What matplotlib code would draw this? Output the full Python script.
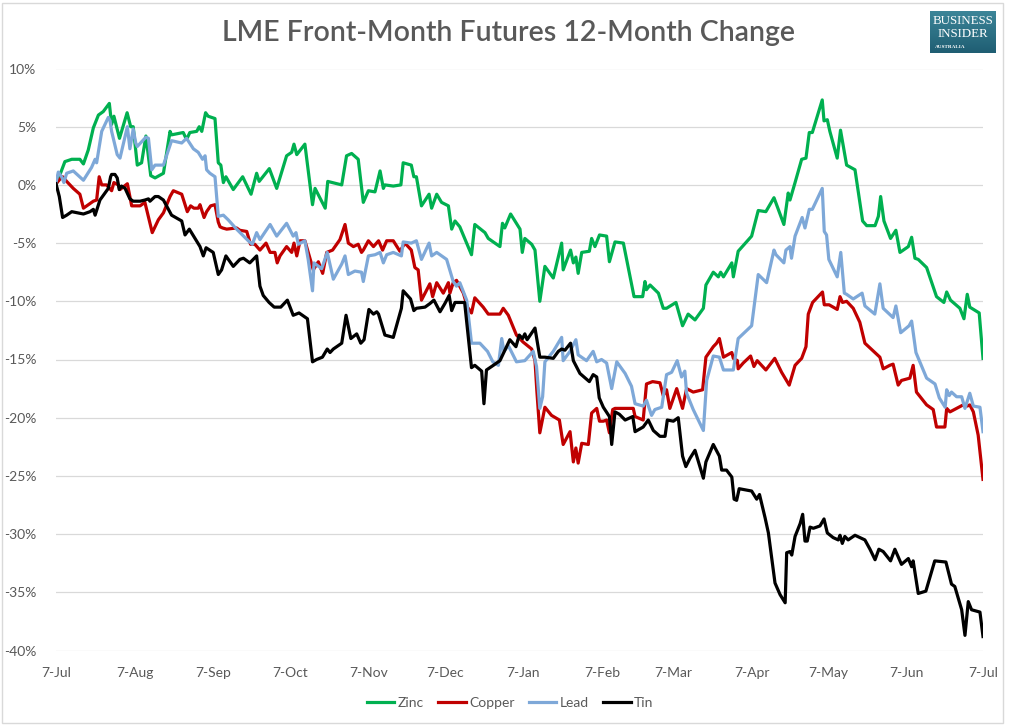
import matplotlib
matplotlib.use("Agg")
import matplotlib.pyplot as plt
import matplotlib.dates as mdates
from matplotlib.ticker import FuncFormatter
from matplotlib.patches import Rectangle
from matplotlib.colors import LinearSegmentedColormap
import numpy as np
import pandas as pd

# ---------------- data (day offsets from 7-Jul, % change) ----------------
START = "2014-07-07"
TITLE = "LME Front-Month Futures 12-Month Change"
SERIES_NAMES = ["Zinc", "Copper", "Lead", "Tin"]
SERIES_COLORS = ["#00B050", "#C00000", "#7EA8D8", "#000000"]

zinc_days = [0, 1.6, 3.5, 6.2, 9.4, 10.8, 12.7, 14.7, 16.7, 18.6, 21, 21.9, 22.8, 25, 28, 29.4, 30.4, 32, 33.7,
             35.4, 37.3, 39, 42.3, 44.9, 45.5, 50.1, 51.4, 52.7, 55.4, 56.4, 57.4, 58.9, 59.9, 62.6, 63.9, 64.9,
             65.9, 66.9, 69.8, 73.5, 76.8, 79, 80, 84, 86.9, 90.8, 92.8, 93.7, 94.8, 98, 101, 102, 106, 107,
             112.5, 114.4, 116.4, 119, 121, 123, 125.6, 127.6, 128.9, 129.5, 132.8, 135.8, 136.7, 139.9, 140.9,
             141.9, 143.9, 146.9, 147.9, 149.9, 151.8, 154.5, 155.8, 157.1, 159, 163.6, 164.9, 168.9, 170.2,
             174.8, 175.8, 176.7, 179, 182.7, 183.6, 184.6, 187.3, 188.6, 190.5, 192.5, 195.8, 199.1, 199.7,
             202.6, 203.7, 204.7, 205.6, 207, 210, 210.9, 212.2, 214, 216.8, 217.9, 220.1, 223.4, 227.6, 231,
             231.9, 232.5, 233.9, 237.2, 239.1, 240.4, 244.1, 246.7, 248.9, 251.6, 254.9, 255.9, 258.8, 260.8,
             261.7, 262.8, 266.1, 266.7, 268.6, 273.9, 276.5, 279.5, 282.7, 286.6, 288.3, 289, 291, 293.6,
             295.3, 296.6, 297.8, 301.7, 302.4, 303.7, 304.7, 307.6, 308.9, 311.3, 314.6, 317.6, 319.2, 322.5,
             323.8, 324.7, 326, 328.6, 330.7, 332.3, 335.6, 336.9, 338.2, 339.5, 342.8, 346.7, 349.6, 350.7,
             352.2, 355.9, 357.5, 358.8, 359.8, 363.5, 365]
zinc_vals = [0.0, 0.9, 2.0, 2.2, 2.2, 1.8, 3.0, 4.9, 6.0, 6.3, 7.0, 5.2, 5.9, 4.0, 6.2, 5.0, 5.0, 1.7, 1.9,
             4.2, 0.8, 0.6, 1.0, 4.6, 4.3, 4.5, 3.9, 4.5, 4.6, 5.0, 4.6, 6.2, 5.9, 5.7, 1.9, 1.7,
             0.2, 0.7, -0.4, 0.7, -0.8, 1.0, 0.3, 1.4, -0.3, 2.5, 2.8, 3.5, 2.6, 3.5, -1.7, -0.3, -2.0, 0.3,
             0.0, 2.5, 2.7, 2.2, -1.5, -0.5, -0.6, 1.2, -0.3, 0.0, -0.1, 0.0, 1.9, 1.7, 0.7,
             0.7, -1.8, -0.8, -2.0, -0.8, -1.5, -1.8, -3.8, -3.1, -3.6, -6.0, -3.4, -4.1, -4.6,
             -5.3, -3.3, -3.7, -2.5, -3.8, -5.8, -4.6, -5.1, -5.6, -10.0, -7.0, -8.0, -5.0, -7.3,
             -5.6, -6.7, -6.2, -7.6, -5.8, -5.7, -4.6, -5.3, -4.3, -4.4, -6.6, -4.9, -5.0, -9.6, -9.6,
             -8.3, -9.0, -8.6, -9.3, -10.6, -10.6, -10.1, -12.1, -11.1, -11.6, -10.6, -8.6, -7.5, -7.9,
             -7.5, -7.9, -6.7, -7.9, -5.7, -4.4, -2.2, -2.3, -1.1, -3.4, -0.7, -1.3, 0.2, 2.2,
             2.3, 4.5, 4.5, 7.3, 5.5, 5.6, 4.6, 2.3, 4.7, 1.7, 1.3, -3.1, -3.5, -3.5,
             -2.7, -1.0, -3.1, -4.6, -3.9, -5.8, -5.3, -4.5, -6.3, -6.4, -7.1, -9.6, -10.1, -9.2,
             -9.9, -10.6, -11.5, -9.4, -10.5, -11.0, -14.9]

copper_days = [0, 1.6, 2.6, 4.2, 6.8, 9.4, 10.8, 12.1, 14.7, 16, 17, 18, 19.9, 21.9, 22.8, 24.5, 25.2, 28.1,
               28.9, 29.8, 33.1, 35, 37.9, 40.3, 42.3, 44.9, 46.2, 49.5, 51.7, 53, 54.3, 56, 56.7, 58.3, 59.3,
               60.9, 62.6, 63.9, 64.6, 65.6, 67.2, 71.1, 72.4, 75.1, 76.6, 78.3, 80.3, 82.7, 84.3, 86.2, 87.1,
               88.2, 90.8, 92.8, 93.7, 94.8, 96.1, 98, 99.7, 101.3, 103.3, 105, 106.6, 108.9, 111.8, 113.8,
               115.1, 117.1, 119, 120.3, 121, 123, 125, 127, 128.6, 130.2, 132.8, 135.4, 137.4, 139.9, 141.3,
               142.6, 143.9, 147.2, 148.3, 149.9, 152.5, 154.5, 155.1, 156.4, 157.7, 160.4, 162, 163.6, 164.9,
               168.2, 170.2, 174.8, 176.1, 178.1, 181.3, 183.9, 187.3, 188.6, 189.3, 190.5, 192.5, 195.1,
               198.2, 199.7, 202.4, 203.7, 204.7, 205.6, 207, 209.6, 210.9, 212.9, 214, 215.5, 216.8, 217.9,
               219.2, 220.1, 227.3, 228, 231.2, 232.5, 234.9, 237.8, 239.1, 240.4, 241.7, 244.4, 246.7, 248.3,
               250.9, 254.6, 255.9, 258.8, 260.1, 261.2, 262.1, 262.8, 266.1, 266.7, 268.3, 268.6, 270.6,
               273.5, 274.8, 276.1, 279.5, 283, 285.7, 288.7, 291, 293.6, 295.3, 296.2, 297.9, 301.8, 302.5,
               304.4, 307.6, 308.7, 309.7, 311.3, 313.9, 316.5, 318.5, 324.4, 325.7, 328.3, 329.6, 331.6,
               332.9, 336.2, 337.5, 338.8, 342.8, 345.4, 346.7, 350, 350.7, 352, 354.6, 357.2, 358.8, 359.8,
               361.2, 363.1, 365]
copper_vals = [0.1, 0.5, 0.7, 0.3, -0.3, -0.8, -2.0, -1.8, -1.4, -1.3, 0.7, 0.0, 0.0, -0.5, 0.2, 0.0, -0.4, 0.1,
               -0.8, -1.8, -1.8, -1.5, -4.1, -3.0, -2.4, -1.0, -0.5, -0.8, -2.3, -1.8, -2.0, -2.0, -1.7, -2.8, -2.3,
               -1.8, -1.7, -3.2, -3.6, -3.7, -3.8, -3.7, -3.9, -4.0, -5.1, -5.1, -5.6, -5.0, -5.8, -5.8, -6.7,
               -6.1, -5.3, -5.8, -5.0, -6.1, -4.8, -4.8, -6.1, -7.3, -6.6, -7.6, -5.8, -5.6, -4.7, -3.4,
               -5.0, -5.3, -5.1, -5.8, -5.6, -4.8, -5.3, -4.8, -5.6, -4.8, -4.8, -5.7, -5.0, -5.6, -7.1,
               -7.3, -9.9, -8.5, -9.6, -8.4, -9.3, -8.4, -9.3, -8.4, -8.2, -9.3, -10.5, -11.0, -9.7,
               -10.5, -11.1, -11.1, -10.6, -11.2, -12.9, -13.5, -14.1, -15.1, -17.6, -21.3, -19.1, -19.8,
               -20.2, -22.3, -21.2, -23.8, -22.6, -23.9, -22.2, -22.3, -19.6, -19.2, -20.3, -20.3, -20.2, -21.3,
               -19.3, -19.2, -19.2, -19.9, -20.2, -17.1, -16.9, -17.0, -18.1, -17.6, -19.2, -17.5, -19.2, -17.5,
               -17.8, -17.6, -14.8, -13.9, -13.6, -13.2, -14.1, -14.8, -14.4, -14.9, -15.1, -15.8, -15.3,
               -14.7, -15.6, -15.1, -15.9, -14.9, -16.1, -17.2, -15.5, -14.9, -13.9, -11.1, -10.1, -9.2, -10.3,
               -10.3, -10.7, -9.6, -10.1, -10.0, -10.6, -11.8, -13.6, -14.8, -15.8, -15.5, -15.4, -17.2,
               -16.8, -16.6, -15.5, -17.8, -18.9, -19.3, -20.8, -20.8, -19.2, -19.5, -19.2, -18.9, -19.0, -18.9,
               -19.5, -21.5, -25.3]

lead_days = [0, 0.9, 2.2, 3.1, 4.2, 6.8, 10.8, 14, 15.4, 16, 18, 20.6, 21.3, 21.9, 24.1, 25.2, 28.1, 29.1, 30.4,
             31.4, 32, 35.4, 36.4, 37.7, 39, 42.3, 45.5, 49.5, 51.4, 54.1, 56, 57.7, 58.7, 59.3, 60.6, 62.6,
             63.9, 65.9, 67.8, 71.1, 75.7, 77.3, 79, 80.3, 84.3, 86.9, 90.8, 93.4, 94.5, 95.4, 98, 99.3, 101,
             101.6, 104.6, 106.8, 109.2, 112.5, 113.8, 115.1, 117.7, 120.3, 121, 123, 125.6, 127.6, 128.9,
             130.2, 132.8, 136, 136.7, 139.9, 141.9, 143.9, 146.9, 147.9, 149.9, 153.8, 156.4, 157.7, 159,
             161.7, 163.6, 166.9, 169.9, 172, 174.2, 175.5, 176.4, 178.1, 181.3, 184.6, 187.9, 189.2, 190.5,
             191.6, 192.5, 195.8, 199.1, 199.7, 202.4, 204.7, 205.6, 208.9, 211.5, 212.9, 214.8, 216.8, 218.8,
             220.8, 224.1, 226.6, 228, 231.2, 232.5, 234.5, 235.8, 238.5, 240.4, 242.4, 244.6, 246.3, 247.6,
             248.3, 250.9, 254.9, 256.2, 258.8, 261.2, 262.8, 266.7, 268.6, 273.9, 276.5, 279.8, 282.7,
             283.5, 286.6, 287.4, 289, 289.6, 291, 293.8, 294.9, 296.6, 297.8, 301.7, 302.5, 303.4, 304.3,
             307.6, 309, 310.4, 311.3, 313.9, 317.4, 318.5, 322.4, 324.4, 325.7, 329.6, 330.7, 332.6, 335.9,
             336.9, 338.6, 342.8, 346.1, 347.8, 350.1, 350.7, 351.7, 352.6, 354.6, 356.6, 357.9, 359.8,
             361.2, 363.8, 365]
lead_vals = [0.2, 1.1, 0.7, 0.2, 1.0, 1.2, 0.4, 1.5, 2.2, 1.9, 4.6, 5.8, 5.5, 4.6, 2.6, 2.3, 5.0, 3.1, 4.8,
             3.6, 3.3, 4.1, 4.0, 1.3, 1.7, 1.7, 3.8, 3.6, 4.0, 3.1, 2.8, 2.2, 2.5, 1.3, 1.0, 0.7,
             -2.7, -2.6, -3.0, -3.8, -4.8, -5.1, -4.1, -4.7, -3.4, -4.4, -3.3, -4.4, -4.1, -5.1, -4.8, -6.4, -9.1,
             -6.7, -7.2, -5.8, -8.1, -6.8, -6.1, -7.7, -7.4, -7.5, -8.3, -6.1, -6.0, -5.8, -6.7,
             -6.0, -5.8, -6.1, -4.9, -5.0, -4.8, -6.4, -5.0, -6.1, -5.8, -6.4, -8.3, -8.7, -8.4,
             -9.9, -13.6, -13.6, -14.3, -15.2, -15.5, -13.2, -14.3, -13.8, -15.2, -15.1, -14.3, -15.6, -19.2,
             -18.2, -15.2, -14.3, -13.1, -15.1, -14.3, -13.3, -14.6, -15.1, -14.3, -15.2, -15.0, -15.3, -17.5,
             -15.2, -16.2, -17.3, -18.8, -19.0, -18.5, -19.8, -19.3, -19.1, -16.3, -16.1, -15.1, -16.5, -16.0,
             -17.9, -19.3, -21.1, -16.8, -14.7, -14.8, -15.9, -15.9, -13.2, -12.1, -7.7, -8.4, -5.6,
             -6.0, -6.7, -5.6, -5.3, -6.3, -4.4, -2.8, -3.7, -2.1, -2.1, -0.3, -4.0, -4.3, -6.4,
             -7.9, -5.8, -9.3, -9.4, -9.8, -9.3, -10.4, -11.1, -8.5, -10.6, -11.4, -10.4, -12.7, -12.1,
             -11.7, -14.4, -16.6, -17.1, -18.3, -19.1, -17.6, -18.1, -17.8, -18.2, -18.2, -19.2, -17.9,
             -19.0, -19.1, -21.2]

tin_days = [0, 1.3, 2.6, 4.2, 6.2, 10.8, 13.4, 14.7, 15.4, 17.3, 19.3, 20.6, 21.5, 21.9, 23.2, 24.1, 24.9, 25.8,
            27.2, 29.1, 30.4, 33.1, 35, 36.4, 37, 39, 40.3, 42.3, 45.5, 49.5, 50.8, 52.5, 56.7, 58, 59.1, 61.9,
            63.9, 65.2, 66.9, 69.8, 72.4, 73.8, 76.3, 79, 80.3, 81.6, 83.9, 85.9, 88.5, 91.1, 93.4, 95.7, 99,
            101, 102.6, 104.9, 106.8, 107.9, 109.2, 112.5, 114.2, 116.1, 118.4, 120, 121.3, 123.2, 125, 126.3,
            127, 129.5, 132.8, 136, 136.7, 139.6, 140.9, 141.9, 145.3, 147.2, 148.8, 151.2, 153.1, 154.8,
            155.8, 157.1, 159, 160.9, 163.6, 164.9, 167.6, 168.5, 169.5, 172.2, 174.8, 176.1, 178.7, 181.1,
            182.4, 183.7, 184.6, 185.5, 188.6, 190.5, 192.5, 195.8, 197.8, 199.1, 200.4, 202.6, 203.7, 206.3,
            210, 211.5, 212.9, 213.9, 215.5, 217.9, 218.8, 220.1, 221.8, 224.1, 227.1, 228, 231.2, 233.2,
            235.2, 237.8, 239.8, 240.7, 243.1, 245, 246.7, 248, 249.6, 251.6, 254.9, 255.9, 258.8, 261.2,
            262.1, 264, 266.1, 267, 268, 269, 273.9, 275.9, 277, 279.2, 280.5, 283.1, 285.1, 287.1, 287.7,
            289, 289.7, 291, 293, 294, 294.9, 295.8, 296.9, 298.2, 300.8, 302.4, 303.7, 306, 308, 308.7,
            309.6, 310.6, 311.9, 314.6, 318.5, 320.5, 322.5, 324, 325.7, 328.6, 330.3, 332.9, 335.6, 336.9,
            337.5, 339.5, 342.5, 346, 350.4, 352.6, 353.9, 356.6, 357.9, 359.2, 360.5, 363.8, 365]
tin_vals = [0.1, -1.0, -2.8, -2.6, -2.3, -2.5, -2.3, -2.1, -2.6, -1.3, -0.7, -0.3, 0.7, 0.9, 0.9, 0.6, -0.4, -0.1,
            -0.3, -1.2, -1.4, -1.4, -1.3, -1.2, -1.4, -1.0, -1.0, -1.3, -2.6, -3.1, -4.3, -3.8, -5.3, -6.1, -5.4, -5.8,
            -7.7, -7.3, -6.1, -7.0, -6.4, -6.3, -6.7, -6.1, -8.7, -9.5, -10.1, -10.5, -10.5, -9.9, -11.2, -11.0, -11.5,
            -15.2, -15.0, -14.8, -14.1, -14.4, -14.1, -13.6, -11.2, -13.2, -12.8, -13.6, -13.3, -10.7, -11.1, -10.9,
            -11.1, -12.9, -13.1, -10.6, -9.1, -9.8, -10.8, -10.6, -10.5, -10.2, -9.9, -10.9, -10.2, -9.5,
            -10.8, -10.1, -10.1, -10.1, -15.7, -15.5, -16.0, -18.8, -15.9, -15.5, -15.1, -14.5, -13.3, -13.9,
            -12.9, -13.2, -12.8, -13.3, -12.3, -14.8, -14.8, -14.9, -14.3, -14.1, -14.2, -13.6, -15.1, -16.2,
            -16.9, -16.3, -16.5, -18.3, -19.1, -19.9, -22.3, -19.5, -19.7, -20.2, -19.9, -21.2, -20.8, -20.2,
            -21.1, -21.6, -21.6, -20.2, -20.3, -20.0, -23.3, -24.2, -23.5, -22.8, -25.2, -23.8, -22.3, -23.3,
            -24.5, -24.5, -25.1, -27.0, -27.1, -26.1, -26.3, -27.0, -26.6, -28.6, -29.9, -34.2, -35.2, -35.9, -31.6,
            -31.5, -31.8, -30.2, -29.1, -28.3, -30.6, -30.6, -29.4, -29.5, -29.3, -28.7, -29.9, -30.3, -30.5, -30.1,
            -30.8, -30.2, -30.5, -30.1, -30.5, -31.3, -32.2, -31.3, -31.5, -32.3, -31.3, -32.6, -32.1, -32.8,
            -32.3, -35.1, -34.9, -32.3, -32.4, -34.3, -34.5, -36.5, -38.7, -35.8, -36.5, -36.7, -38.8]

Y_TICKS = [-40, -35, -30, -25, -20, -15, -10, -5, 0, 5, 10]

# ---------------- figure ----------------
W, H = 1012, 725
fig = plt.figure(figsize=(W / 100, H / 100), dpi=100)
plt.rcParams["font.family"] = ["Lato", "DejaVu Sans"]
TXT = "#595959"

ax = fig.add_axes([56 / W, 1 - 650.5 / H, (983 - 56) / W, (650.5 - 68.5) / H])


def to_dates(days):
    return pd.Timestamp(START) + pd.to_timedelta(np.asarray(days, dtype=float), unit="D")


series = [(zinc_days, zinc_vals), (copper_days, copper_vals), (lead_days, lead_vals), (tin_days, tin_vals)]
for (d, v), name, col in zip(series, SERIES_NAMES, SERIES_COLORS):
    ax.plot(to_dates(d), v, color=col, lw=2.3, label=name, solid_joinstyle="round", zorder=3)

x0 = pd.Timestamp(START)
x1 = x0 + pd.DateOffset(years=1)
ax.set_xlim(x0, x1)
ax.set_ylim(min(Y_TICKS), max(Y_TICKS))
ax.set_yticks(Y_TICKS)
ax.yaxis.set_major_formatter(FuncFormatter(lambda v, p: f"{int(v)}%"))
ax.xaxis.set_major_locator(mdates.MonthLocator(bymonthday=7))


def fmt_date(x, pos):
    dt = mdates.num2date(x)
    return f"{dt.day}-{dt.strftime('%b')}"


ax.xaxis.set_major_formatter(FuncFormatter(fmt_date))
ax.grid(axis="y", color="#D9D9D9", lw=0.9)
ax.set_axisbelow(True)
for s in ax.spines.values():
    s.set_visible(False)
ax.tick_params(axis="both", length=0, labelsize=10, labelcolor=TXT)
ax.tick_params(axis="y", pad=14)
ax.tick_params(axis="x", pad=12)

# title
fig.text(509 / W, 1 - 33 / H, TITLE, ha="center", va="center",
         fontsize=20.5, color=TXT, weight="semibold")

# legend
fig.legend(loc="center", bbox_to_anchor=(510 / W, 1 - 703 / H), ncol=4, frameon=False,
           fontsize=10, handlelength=2.0, handletextpad=0.25, columnspacing=1.0, labelcolor=TXT)

# logo box
lx0, ly0, lx1, ly1 = 930, 11, 996, 53
lax = fig.add_axes([lx0 / W, 1 - ly1 / H, (lx1 - lx0) / W, (ly1 - ly0) / H])
grad = np.linspace(0, 1, 50).reshape(-1, 1)
cm = LinearSegmentedColormap.from_list("bi", ["#1F5E73", "#3C8598"])
lax.imshow(grad, aspect="auto", cmap=cm, extent=[0, 1, 0, 1], origin="lower")
lax.set_xlim(0, 1)
lax.set_ylim(0, 1)
lax.axis("off")
serif = ["Liberation Serif", "DejaVu Serif"]
lax.text(0.5, 0.76, "BUSINESS", ha="center", va="center", color="white", fontsize=9.3, family=serif)
lax.text(0.5, 0.45, "INSIDER", ha="center", va="center", color="white", fontsize=9.3, family=serif)
lax.text(0.08, 0.14, "AUSTRALIA", ha="left", va="center", color="white", fontsize=3.8,
         family=serif, weight="bold")

# chart border
fig.add_artist(Rectangle((2 / W, 2 / H), (1003 - 2) / W, (722 - 2) / H, transform=fig.transFigure,
                         fill=False, edgecolor="#D9D9D9", lw=1))

fig.savefig("out.png", dpi=100)
